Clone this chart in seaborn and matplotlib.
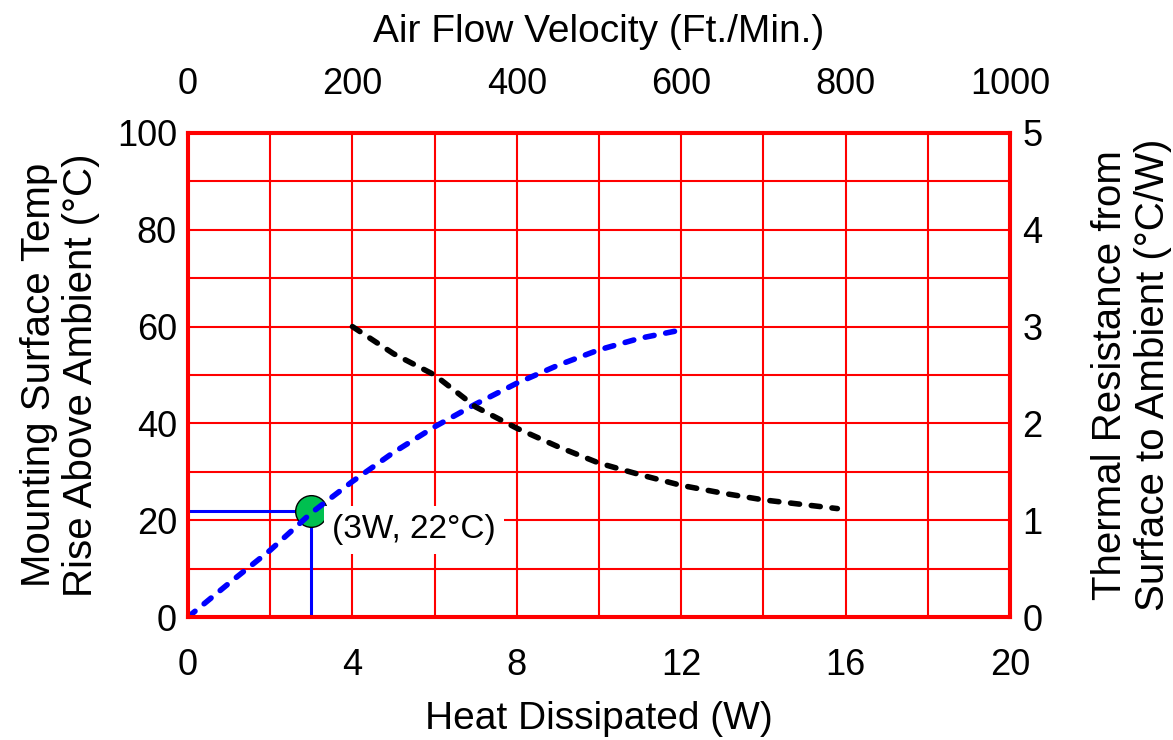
import matplotlib
matplotlib.use("Agg")
import matplotlib.pyplot as plt
import seaborn as sns
import pandas as pd
import numpy as np

sns.set_theme(style="white")
plt.rcParams['font.family'] = ['Liberation Sans', 'DejaVu Sans']
plt.rcParams['lines.scale_dashes'] = False
plt.rcParams['text.color'] = 'black'
plt.rcParams['axes.labelcolor'] = 'black'
plt.rcParams['xtick.color'] = 'black'
plt.rcParams['ytick.color'] = 'black'

# Data: temperature rise vs heat dissipated (bottom / left axes)
heat_w = [0, 1, 2, 3, 4, 5, 6, 7, 8, 9, 10, 11, 12]
temp_rise_c = [0, 7, 13.8, 21.5, 28, 34, 39.3, 44, 48.3, 52, 55.2, 57.6, 59.3]

# Data: thermal resistance vs air flow (top / right axes)
air_flow = [200, 250, 300, 350, 400, 450, 500, 550, 600, 650, 700, 750, 790]
thermal_res = [3.0, 2.72, 2.5, 2.17, 1.95, 1.76, 1.59, 1.47, 1.36, 1.28, 1.21, 1.16, 1.12]

# Operating point
op_w = 3
op_c = 22
op_label = "(3W, 22°C)"

bottom_ticks = [0, 4, 8, 12, 16, 20]
left_ticks = [0, 20, 40, 60, 80, 100]
top_ticks = [0, 200, 400, 600, 800, 1000]
right_ticks = [0, 1, 2, 3, 4, 5]

df_temp = pd.DataFrame({"heat": heat_w, "temp": temp_rise_c})
df_res = pd.DataFrame({"flow": air_flow, "res": thermal_res})

RED = "#ff0000"
TICK_FS = 26
XLAB_FS = 28
YLAB_FS = 29
LW = 4.0
DASH_STYLE = (0, (6.5, 8.5))

fig = plt.figure(figsize=(11.73, 7.40), dpi=100)
ax = fig.add_axes([0.1603, 0.1662, 0.861 - 0.1603, 0.8203 - 0.1662])
ax2 = ax.twinx()
ax3 = ax2.twiny()

ax.set_xlim(0, 20)
ax.set_ylim(0, 100)
ax2.set_ylim(0, 5)
ax3.set_xlim(0, 1000)

# grid
ax.set_xticks(bottom_ticks)
ax.set_yticks(left_ticks)
ax.set_xticks(np.arange(0, 21, 2), minor=True)
ax.set_yticks(np.arange(0, 101, 10), minor=True)
ax.grid(True, which="both", color=RED, linewidth=1.5)
ax.set_axisbelow(True)

# Operating point reference lines and marker
ax.plot([0, op_w], [op_c, op_c], color="#0000ff", linewidth=2.2, zorder=3)
ax.plot([op_w, op_w], [0, op_c], color="#0000ff", linewidth=2.2, zorder=3)
sns.scatterplot(x=[op_w], y=[op_c], ax=ax, s=520, color="#00c050",
                edgecolor="black", linewidth=1.0, zorder=4, legend=False)

# Blue curve
sns.lineplot(data=df_temp, x="heat", y="temp", ax=ax, color="#0000ff",
             zorder=5, estimator=None, sort=False, legend=False,
             linewidth=LW, linestyle=DASH_STYLE, dash_capstyle="round")

ax.text(3.5, 18, op_label, fontsize=24, ha="left", va="center",
        color="black", zorder=4,
        bbox=dict(boxstyle="square,pad=0.25", facecolor="white", edgecolor="none"))

# Black curve
sns.lineplot(data=df_res, x="flow", y="res", ax=ax3, color="black",
             zorder=5, estimator=None, sort=False, legend=False,
             linewidth=LW, linestyle=DASH_STYLE, dash_capstyle="round")

# ticks
ax2.set_yticks(right_ticks)
ax3.set_xticks(top_ticks)
for a in (ax, ax2, ax3):
    a.tick_params(which="both", length=0, labelsize=TICK_FS, colors="black")
ax.tick_params(axis="x", pad=22)
ax.tick_params(axis="y", pad=8)
ax2.tick_params(axis="y", pad=9)
ax3.tick_params(axis="x", pad=22)

ax.set_xlabel("Heat Dissipated (W)", fontsize=XLAB_FS, labelpad=13)
ax.set_ylabel("Mounting Surface Temp\nRise Above Ambient (°C)", fontsize=YLAB_FS,
              labelpad=12, linespacing=1.15)
ax2.set_ylabel("Thermal Resistance from\nSurface to Ambient (°C/W)", fontsize=YLAB_FS,
               labelpad=35, linespacing=1.15)
ax3.set_xlabel("Air Flow Velocity (Ft./Min.)", fontsize=XLAB_FS, labelpad=18)
ax2.yaxis.set_label_position("right")

for a in (ax, ax2, ax3):
    for s in a.spines.values():
        s.set_color(RED)
        s.set_linewidth(2.9)

fig.savefig("out.png", dpi=100)
